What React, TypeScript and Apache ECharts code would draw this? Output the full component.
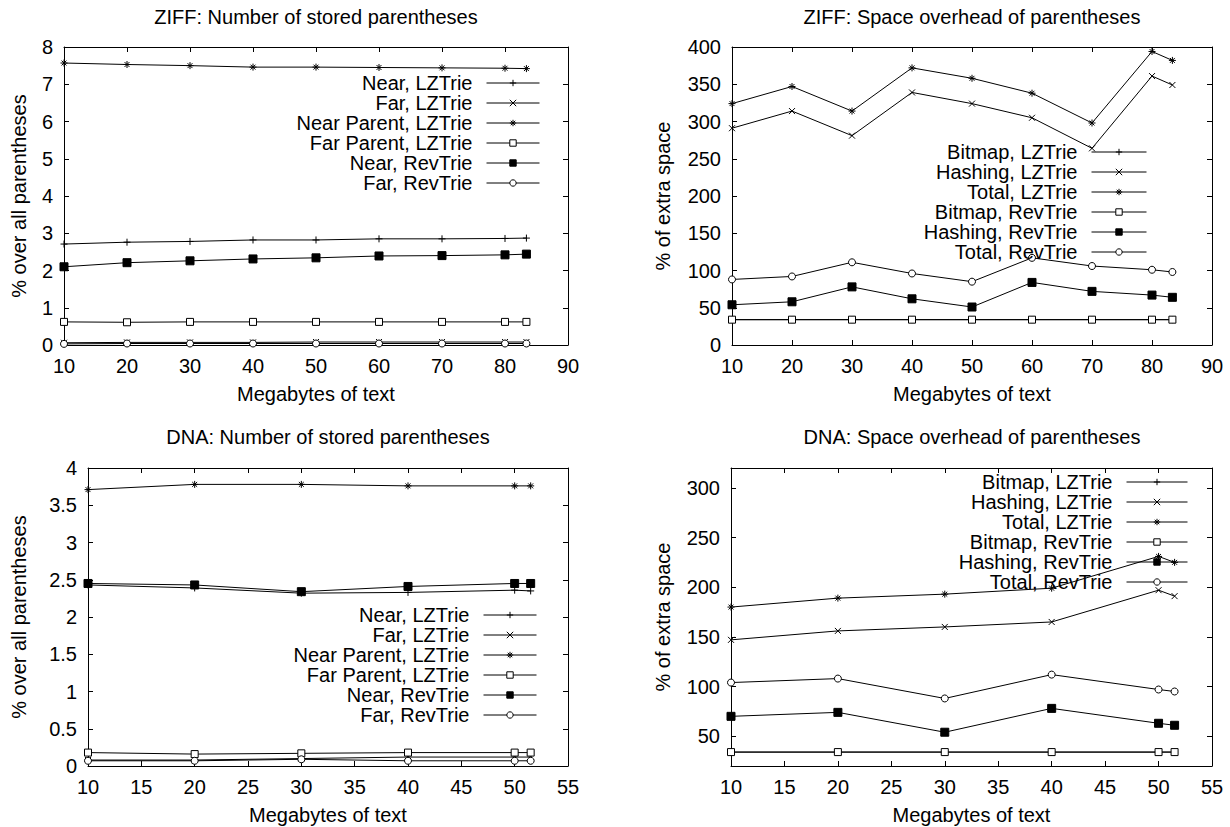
import React, { useEffect, useRef } from 'react';
import * as echarts from 'echarts';

const FONT = '"Liberation Sans", Arial, Helvetica, sans-serif';
const FS = 20;

// Text sizes (megabytes) of the two collections
const ziffSizes = [10, 20, 30, 40, 50, 60, 70, 80, 83.4];
const dnaSizes = [10, 20, 30, 40, 50, 51.5];

// ZIFF: % of stored parentheses over all parentheses
const ziffNearLZ = [2.71, 2.76, 2.78, 2.82, 2.82, 2.85, 2.85, 2.86, 2.87];
const ziffFarLZ = [0.06, 0.07, 0.07, 0.07, 0.08, 0.08, 0.08, 0.08, 0.08];
const ziffNearParentLZ = [7.57, 7.53, 7.5, 7.46, 7.46, 7.45, 7.44, 7.43, 7.42];
const ziffFarParentLZ = [0.62, 0.61, 0.62, 0.62, 0.62, 0.62, 0.62, 0.62, 0.62];
const ziffNearRev = [2.1, 2.21, 2.26, 2.31, 2.34, 2.39, 2.4, 2.42, 2.44];
const ziffFarRev = [0.03, 0.04, 0.04, 0.04, 0.04, 0.04, 0.04, 0.04, 0.04];

// ZIFF: % of extra space
const ziffBitmapLZ = [34, 34, 34, 34, 34, 34, 34, 34, 34];
const ziffHashLZ = [291, 314, 281, 339, 324, 305, 264, 361, 349];
const ziffTotalLZ = [324, 347, 314, 372, 358, 338, 298, 394, 382];
const ziffBitmapRev = [34, 34, 34, 34, 34, 34, 34, 34, 34];
const ziffHashRev = [54, 58, 78, 62, 51, 84, 72, 67, 64];
const ziffTotalRev = [88, 92, 111, 96, 85, 117, 106, 101, 98];

// DNA: % of stored parentheses over all parentheses
const dnaNearLZ = [2.43, 2.39, 2.32, 2.33, 2.36, 2.35];
const dnaFarLZ = [0.08, 0.08, 0.1, 0.12, 0.12, 0.12];
const dnaNearParentLZ = [3.71, 3.78, 3.78, 3.76, 3.76, 3.76];
const dnaFarParentLZ = [0.18, 0.16, 0.17, 0.18, 0.18, 0.18];
const dnaNearRev = [2.45, 2.43, 2.34, 2.41, 2.45, 2.45];
const dnaFarRev = [0.07, 0.07, 0.09, 0.07, 0.07, 0.07];

// DNA: % of extra space
const dnaBitmapLZ = [34, 34, 34, 34, 34, 34];
const dnaHashLZ = [147, 156, 160, 165, 197, 191];
const dnaTotalLZ = [180, 189, 193, 199, 231, 225];
const dnaBitmapRev = [34, 34, 34, 34, 34, 34];
const dnaHashRev = [70, 74, 54, 78, 63, 61];
const dnaTotalRev = [104, 108, 88, 112, 97, 95];

// Tick values of the DNA overhead axis (range 20..320)
const dnaOverheadTicks = [50, 100, 150, 200, 250, 300];

const countNames = ['Near, LZTrie', 'Far, LZTrie', 'Near Parent, LZTrie', 'Far Parent, LZTrie', 'Near, RevTrie', 'Far, RevTrie'];
const spaceNames = ['Bitmap, LZTrie', 'Hashing, LZTrie', 'Total, LZTrie', 'Bitmap, RevTrie', 'Hashing, RevTrie', 'Total, RevTrie'];

// gnuplot-like point types
const PLUS = 'path://M0 5L10 5M5 0L5 10';
const CROSS = 'path://M0 0L10 10M10 0L0 10';
const STAR = 'path://M0 5L10 5M5 0L5 10M1.5 1.5L8.5 8.5M8.5 1.5L1.5 8.5';
type Marker = { symbol: string; fill: string; size: number };
const markers: Marker[] = [
  { symbol: PLUS, fill: '#000', size: 7 },
  { symbol: CROSS, fill: '#000', size: 6 },
  { symbol: STAR, fill: '#000', size: 7 },
  { symbol: 'rect', fill: '#fff', size: 7 },
  { symbol: 'rect', fill: '#000', size: 8 },
  { symbol: 'circle', fill: '#fff', size: 7 },
];

const textStyle = { color: '#000', fontSize: FS, fontFamily: FONT };
const axisLine = { show: true, onZero: false, lineStyle: { color: '#000', width: 1 } };
const innerTick = { show: true, inside: true, length: 5, lineStyle: { color: '#000', width: 1 } };

function lineSeries(name: string, xs: number[], ys: number[], m: Marker, idx: number) {
  return {
    type: 'line',
    name,
    xAxisIndex: idx * 2,
    yAxisIndex: idx * 2,
    data: xs.map((x, i) => [x, ys[i]]),
    symbol: m.symbol,
    symbolSize: m.size,
    showAllSymbol: true,
    clip: false,
    lineStyle: { color: '#000', width: 1 },
    itemStyle: { color: m.fill, borderColor: '#000', borderWidth: 1 },
    emphasis: { disabled: true },
  };
}

type AxisSpec = { min: number; max: number; interval?: number; ticks?: number[] };

function axesFor(idx: number, x: AxisSpec, y: AxisSpec, yName: string, yGap: number) {
  const xBase = { type: 'value', gridIndex: idx, min: x.min, max: x.max, interval: x.interval, axisLine, axisTick: innerTick, splitLine: { show: false } };
  const yTickExtra = y.ticks ? { customValues: y.ticks } : {};
  const yBase = {
    type: 'value', gridIndex: idx, min: y.min, max: y.max, interval: y.interval, axisLine,
    axisTick: { ...innerTick, ...yTickExtra }, splitLine: { show: false },
  };
  const xAxes = [
    { ...xBase, position: 'bottom', axisLabel: { ...textStyle, margin: 11 }, name: 'Megabytes of text', nameLocation: 'middle', nameGap: 39, nameTextStyle: textStyle },
    { ...xBase, position: 'top', axisLabel: { show: false } },
  ];
  const yAxes = [
    { ...yBase, position: 'left', axisLabel: { ...textStyle, margin: 11, ...yTickExtra }, name: yName, nameLocation: 'middle', nameRotate: 90, nameGap: yGap, nameTextStyle: textStyle },
    { ...yBase, position: 'right', axisLabel: { show: false } },
  ];
  return { xAxes, yAxes };
}

function legendFor(names: string[], right: number, top: number, itemWidth: number) {
  return {
    data: names, orient: 'vertical', align: 'right', right, top, padding: 0,
    itemWidth, itemHeight: 8, itemGap: 0, selectedMode: false,
    lineStyle: { width: 1 },
    itemStyle: { borderWidth: 1 },
    textStyle: { ...textStyle, lineHeight: 20, padding: [0, 9, 0, 0] },
  };
}

export default function App() {
  const ref = useRef<HTMLDivElement>(null);

  useEffect(() => {
    if (!ref.current) return;
    const chart = echarts.init(ref.current, undefined, { renderer: 'svg' });

    const a0 = axesFor(0, { min: 10, max: 90, interval: 10 }, { min: 0, max: 8, interval: 1 }, '% over all parentheses', 35);
    const a1 = axesFor(1, { min: 10, max: 90, interval: 10 }, { min: 0, max: 400, interval: 50 }, '% of extra space', 59);
    const a2 = axesFor(2, { min: 10, max: 55, interval: 5 }, { min: 0, max: 4, interval: 0.5 }, '% over all parentheses', 59);
    const a3 = axesFor(3, { min: 10, max: 55, interval: 5 }, { min: 20, max: 320, ticks: dnaOverheadTicks }, '% of extra space', 58);

    const ziffCount = [ziffNearLZ, ziffFarLZ, ziffNearParentLZ, ziffFarParentLZ, ziffNearRev, ziffFarRev];
    const ziffSpace = [ziffBitmapLZ, ziffHashLZ, ziffTotalLZ, ziffBitmapRev, ziffHashRev, ziffTotalRev];
    const dnaCount = [dnaNearLZ, dnaFarLZ, dnaNearParentLZ, dnaFarParentLZ, dnaNearRev, dnaFarRev];
    const dnaSpace = [dnaBitmapLZ, dnaHashLZ, dnaTotalLZ, dnaBitmapRev, dnaHashRev, dnaTotalRev];

    const series = [
      ...ziffCount.map((ys, i) => lineSeries(countNames[i], ziffSizes, ys, markers[i], 0)),
      ...ziffSpace.map((ys, i) => lineSeries(spaceNames[i], ziffSizes, ys, markers[i], 1)),
      ...dnaCount.map((ys, i) => lineSeries(countNames[i], dnaSizes, ys, markers[i], 2)),
      ...dnaSpace.map((ys, i) => lineSeries(spaceNames[i], dnaSizes, ys, markers[i], 3)),
    ];

    const titleStyle = { ...textStyle, fontWeight: 'normal' };
    chart.setOption({
      animation: false,
      backgroundColor: '#fff',
      textStyle: { fontFamily: FONT },
      title: [
        { text: 'ZIFF: Number of stored parentheses', left: 316, top: 7, textAlign: 'center', padding: 0, textStyle: titleStyle },
        { text: 'ZIFF: Space overhead of parentheses', left: 972, top: 7, textAlign: 'center', padding: 0, textStyle: titleStyle },
        { text: 'DNA: Number of stored parentheses', left: 328, top: 427, textAlign: 'center', padding: 0, textStyle: titleStyle },
        { text: 'DNA: Space overhead of parentheses', left: 972, top: 427, textAlign: 'center', padding: 0, textStyle: titleStyle },
      ],
      grid: [
        { left: 64, top: 47, width: 504, height: 298 },
        { left: 732, top: 47, width: 480, height: 298 },
        { left: 88, top: 468, width: 480, height: 298 },
        { left: 731, top: 468, width: 481, height: 298 },
      ],
      xAxis: [...a0.xAxes, ...a1.xAxes, ...a2.xAxes, ...a3.xAxes],
      yAxis: [...a0.yAxes, ...a1.yAxes, ...a2.yAxes, ...a3.yAxes],
      legend: [
        legendFor(countNames, 1230 - 540, 73, 53),
        legendFor(spaceNames, 1230 - 1147, 142, 55),
        legendFor(countNames, 1230 - 537, 605, 53),
        legendFor(spaceNames, 1230 - 1188, 472, 61),
      ],
      series,
    });

    return () => chart.dispose();
  }, []);

  return <div ref={ref} style={{ position: 'absolute', left: 0, top: 0, width: 1230, height: 827 }} />;
}
